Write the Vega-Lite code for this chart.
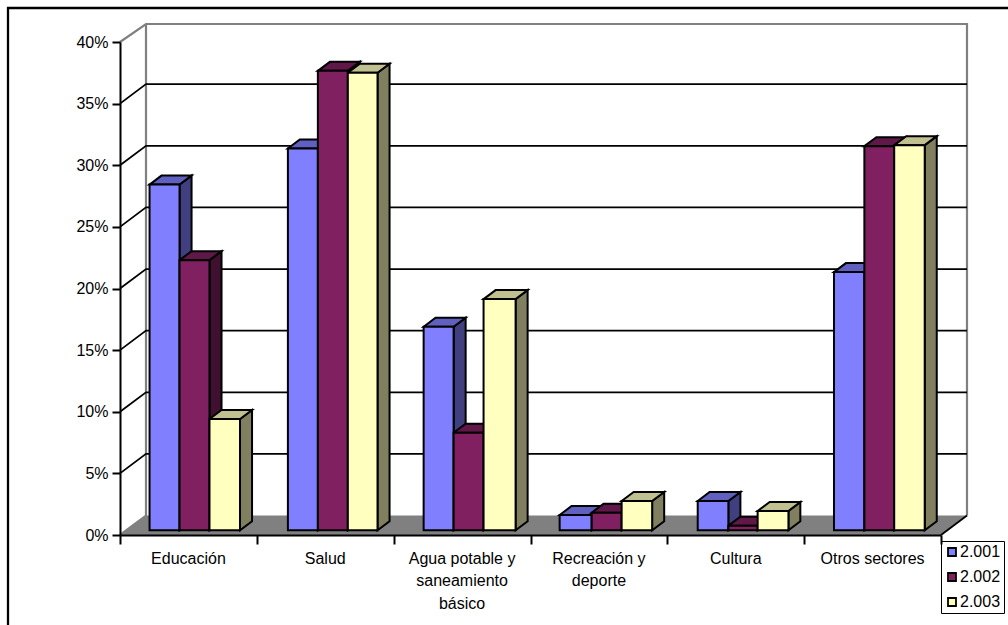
{"$schema":"https://vega.github.io/schema/vega-lite/v6.json","width":821,"height":493,"padding":{"left":120,"top":42,"right":67,"bottom":90},"autosize":"none","background":"white","config":{"view":{"stroke":null},"font":"Liberation Sans"},
"datasets":{
"barras":[
{"cat":"Educación","serie":"2.001","valor":28.08,"x":0.216,"x2":0.435,"y":28.43,"y2":0.38},
{"cat":"Educación","serie":"2.002","valor":21.95,"x":0.435,"x2":0.654,"y":22.30,"y2":0.38},
{"cat":"Educación","serie":"2.003","valor":9.06,"x":0.654,"x2":0.877,"y":9.41,"y2":0.38},
{"cat":"Salud","serie":"2.001","valor":31.01,"x":1.227,"x2":1.446,"y":31.36,"y2":0.38},
{"cat":"Salud","serie":"2.002","valor":37.31,"x":1.446,"x2":1.665,"y":37.66,"y2":0.38},
{"cat":"Salud","serie":"2.003","valor":37.15,"x":1.665,"x2":1.882,"y":37.50,"y2":0.38},
{"cat":"Agua","serie":"2.001","valor":16.55,"x":2.219,"x2":2.438,"y":16.90,"y2":0.38},
{"cat":"Agua","serie":"2.002","valor":7.95,"x":2.438,"x2":2.657,"y":8.30,"y2":0.38},
{"cat":"Agua","serie":"2.003","valor":18.79,"x":2.657,"x2":2.891,"y":19.14,"y2":0.38},
{"cat":"Recreación","serie":"2.001","valor":1.27,"x":3.213,"x2":3.447,"y":1.62,"y2":0.38},
{"cat":"Recreación","serie":"2.002","valor":1.46,"x":3.447,"x2":3.666,"y":1.81,"y2":0.38},
{"cat":"Recreación","serie":"2.003","valor":2.41,"x":3.666,"x2":3.889,"y":2.76,"y2":0.38},
{"cat":"Cultura","serie":"2.001","valor":2.41,"x":4.222,"x2":4.446,"y":2.76,"y2":0.38},
{"cat":"Cultura","serie":"2.002","valor":0.41,"x":4.446,"x2":4.660,"y":0.76,"y2":0.38},
{"cat":"Cultura","serie":"2.003","valor":1.60,"x":4.660,"x2":4.885,"y":1.95,"y2":0.38},
{"cat":"Otros","serie":"2.001","valor":20.98,"x":5.218,"x2":5.440,"y":21.33,"y2":0.38},
{"cat":"Otros","serie":"2.002","valor":31.20,"x":5.440,"x2":5.658,"y":31.55,"y2":0.38},
{"cat":"Otros","serie":"2.003","valor":31.28,"x":5.658,"x2":5.881,"y":31.63,"y2":0.38}
],
"lados":[
{"cat":"Educación","serie":"2.001","x":0.435,"y":28.43,"y2":0.38},{"cat":"Educación","serie":"2.001","x":0.523,"y":29.16,"y2":1.11},
{"cat":"Educación","serie":"2.002","x":0.654,"y":22.30,"y2":0.38},{"cat":"Educación","serie":"2.002","x":0.742,"y":23.03,"y2":1.11},
{"cat":"Educación","serie":"2.003","x":0.877,"y":9.41,"y2":0.38},{"cat":"Educación","serie":"2.003","x":0.965,"y":10.14,"y2":1.11},
{"cat":"Salud","serie":"2.001","x":1.446,"y":31.36,"y2":0.38},{"cat":"Salud","serie":"2.001","x":1.534,"y":32.09,"y2":1.11},
{"cat":"Salud","serie":"2.002","x":1.665,"y":37.66,"y2":0.38},{"cat":"Salud","serie":"2.002","x":1.753,"y":38.39,"y2":1.11},
{"cat":"Salud","serie":"2.003","x":1.882,"y":37.50,"y2":0.38},{"cat":"Salud","serie":"2.003","x":1.970,"y":38.23,"y2":1.11},
{"cat":"Agua","serie":"2.001","x":2.438,"y":16.90,"y2":0.38},{"cat":"Agua","serie":"2.001","x":2.526,"y":17.63,"y2":1.11},
{"cat":"Agua","serie":"2.002","x":2.657,"y":8.30,"y2":0.38},{"cat":"Agua","serie":"2.002","x":2.745,"y":9.03,"y2":1.11},
{"cat":"Agua","serie":"2.003","x":2.891,"y":19.14,"y2":0.38},{"cat":"Agua","serie":"2.003","x":2.979,"y":19.87,"y2":1.11},
{"cat":"Recreación","serie":"2.001","x":3.447,"y":1.62,"y2":0.38},{"cat":"Recreación","serie":"2.001","x":3.534,"y":2.35,"y2":1.11},
{"cat":"Recreación","serie":"2.002","x":3.666,"y":1.81,"y2":0.38},{"cat":"Recreación","serie":"2.002","x":3.754,"y":2.54,"y2":1.11},
{"cat":"Recreación","serie":"2.003","x":3.889,"y":2.76,"y2":0.38},{"cat":"Recreación","serie":"2.003","x":3.977,"y":3.49,"y2":1.11},
{"cat":"Cultura","serie":"2.001","x":4.446,"y":2.76,"y2":0.38},{"cat":"Cultura","serie":"2.001","x":4.534,"y":3.49,"y2":1.11},
{"cat":"Cultura","serie":"2.002","x":4.660,"y":0.76,"y2":0.38},{"cat":"Cultura","serie":"2.002","x":4.748,"y":1.49,"y2":1.11},
{"cat":"Cultura","serie":"2.003","x":4.885,"y":1.95,"y2":0.38},{"cat":"Cultura","serie":"2.003","x":4.972,"y":2.68,"y2":1.11},
{"cat":"Otros","serie":"2.001","x":5.440,"y":21.33,"y2":0.38},{"cat":"Otros","serie":"2.001","x":5.528,"y":22.06,"y2":1.11},
{"cat":"Otros","serie":"2.002","x":5.658,"y":31.55,"y2":0.38},{"cat":"Otros","serie":"2.002","x":5.746,"y":32.28,"y2":1.11},
{"cat":"Otros","serie":"2.003","x":5.881,"y":31.63,"y2":0.38},{"cat":"Otros","serie":"2.003","x":5.969,"y":32.36,"y2":1.11}
],
"tapas":[
{"cat":"Educación","serie":"2.001","x":0.216,"y":28.43,"y2":28.43},{"cat":"Educación","serie":"2.001","x":0.303,"y":29.16,"y2":28.43},{"cat":"Educación","serie":"2.001","x":0.435,"y":29.16,"y2":28.43},{"cat":"Educación","serie":"2.001","x":0.523,"y":29.16,"y2":29.16},
{"cat":"Educación","serie":"2.002","x":0.435,"y":22.30,"y2":22.30},{"cat":"Educación","serie":"2.002","x":0.523,"y":23.03,"y2":22.30},{"cat":"Educación","serie":"2.002","x":0.654,"y":23.03,"y2":22.30},{"cat":"Educación","serie":"2.002","x":0.742,"y":23.03,"y2":23.03},
{"cat":"Educación","serie":"2.003","x":0.654,"y":9.41,"y2":9.41},{"cat":"Educación","serie":"2.003","x":0.742,"y":10.14,"y2":9.41},{"cat":"Educación","serie":"2.003","x":0.877,"y":10.14,"y2":9.41},{"cat":"Educación","serie":"2.003","x":0.965,"y":10.14,"y2":10.14},
{"cat":"Salud","serie":"2.001","x":1.227,"y":31.36,"y2":31.36},{"cat":"Salud","serie":"2.001","x":1.314,"y":32.09,"y2":31.36},{"cat":"Salud","serie":"2.001","x":1.446,"y":32.09,"y2":31.36},{"cat":"Salud","serie":"2.001","x":1.534,"y":32.09,"y2":32.09},
{"cat":"Salud","serie":"2.002","x":1.446,"y":37.66,"y2":37.66},{"cat":"Salud","serie":"2.002","x":1.534,"y":38.39,"y2":37.66},{"cat":"Salud","serie":"2.002","x":1.665,"y":38.39,"y2":37.66},{"cat":"Salud","serie":"2.002","x":1.753,"y":38.39,"y2":38.39},
{"cat":"Salud","serie":"2.003","x":1.665,"y":37.50,"y2":37.50},{"cat":"Salud","serie":"2.003","x":1.753,"y":38.23,"y2":37.50},{"cat":"Salud","serie":"2.003","x":1.882,"y":38.23,"y2":37.50},{"cat":"Salud","serie":"2.003","x":1.970,"y":38.23,"y2":38.23},
{"cat":"Agua","serie":"2.001","x":2.219,"y":16.90,"y2":16.90},{"cat":"Agua","serie":"2.001","x":2.306,"y":17.63,"y2":16.90},{"cat":"Agua","serie":"2.001","x":2.438,"y":17.63,"y2":16.90},{"cat":"Agua","serie":"2.001","x":2.526,"y":17.63,"y2":17.63},
{"cat":"Agua","serie":"2.002","x":2.438,"y":8.30,"y2":8.30},{"cat":"Agua","serie":"2.002","x":2.526,"y":9.03,"y2":8.30},{"cat":"Agua","serie":"2.002","x":2.657,"y":9.03,"y2":8.30},{"cat":"Agua","serie":"2.002","x":2.745,"y":9.03,"y2":9.03},
{"cat":"Agua","serie":"2.003","x":2.657,"y":19.14,"y2":19.14},{"cat":"Agua","serie":"2.003","x":2.745,"y":19.87,"y2":19.14},{"cat":"Agua","serie":"2.003","x":2.891,"y":19.87,"y2":19.14},{"cat":"Agua","serie":"2.003","x":2.979,"y":19.87,"y2":19.87},
{"cat":"Recreación","serie":"2.001","x":3.213,"y":1.62,"y2":1.62},{"cat":"Recreación","serie":"2.001","x":3.300,"y":2.35,"y2":1.62},{"cat":"Recreación","serie":"2.001","x":3.447,"y":2.35,"y2":1.62},{"cat":"Recreación","serie":"2.001","x":3.534,"y":2.35,"y2":2.35},
{"cat":"Recreación","serie":"2.002","x":3.447,"y":1.81,"y2":1.81},{"cat":"Recreación","serie":"2.002","x":3.534,"y":2.54,"y2":1.81},{"cat":"Recreación","serie":"2.002","x":3.666,"y":2.54,"y2":1.81},{"cat":"Recreación","serie":"2.002","x":3.754,"y":2.54,"y2":2.54},
{"cat":"Recreación","serie":"2.003","x":3.666,"y":2.76,"y2":2.76},{"cat":"Recreación","serie":"2.003","x":3.754,"y":3.49,"y2":2.76},{"cat":"Recreación","serie":"2.003","x":3.889,"y":3.49,"y2":2.76},{"cat":"Recreación","serie":"2.003","x":3.977,"y":3.49,"y2":3.49},
{"cat":"Cultura","serie":"2.001","x":4.222,"y":2.76,"y2":2.76},{"cat":"Cultura","serie":"2.001","x":4.309,"y":3.49,"y2":2.76},{"cat":"Cultura","serie":"2.001","x":4.446,"y":3.49,"y2":2.76},{"cat":"Cultura","serie":"2.001","x":4.534,"y":3.49,"y2":3.49},
{"cat":"Cultura","serie":"2.002","x":4.446,"y":0.76,"y2":0.76},{"cat":"Cultura","serie":"2.002","x":4.534,"y":1.49,"y2":0.76},{"cat":"Cultura","serie":"2.002","x":4.660,"y":1.49,"y2":0.76},{"cat":"Cultura","serie":"2.002","x":4.748,"y":1.49,"y2":1.49},
{"cat":"Cultura","serie":"2.003","x":4.660,"y":1.95,"y2":1.95},{"cat":"Cultura","serie":"2.003","x":4.748,"y":2.68,"y2":1.95},{"cat":"Cultura","serie":"2.003","x":4.885,"y":2.68,"y2":1.95},{"cat":"Cultura","serie":"2.003","x":4.972,"y":2.68,"y2":2.68},
{"cat":"Otros","serie":"2.001","x":5.218,"y":21.33,"y2":21.33},{"cat":"Otros","serie":"2.001","x":5.305,"y":22.06,"y2":21.33},{"cat":"Otros","serie":"2.001","x":5.440,"y":22.06,"y2":21.33},{"cat":"Otros","serie":"2.001","x":5.528,"y":22.06,"y2":22.06},
{"cat":"Otros","serie":"2.002","x":5.440,"y":31.55,"y2":31.55},{"cat":"Otros","serie":"2.002","x":5.528,"y":32.28,"y2":31.55},{"cat":"Otros","serie":"2.002","x":5.658,"y":32.28,"y2":31.55},{"cat":"Otros","serie":"2.002","x":5.746,"y":32.28,"y2":32.28},
{"cat":"Otros","serie":"2.003","x":5.658,"y":31.63,"y2":31.63},{"cat":"Otros","serie":"2.003","x":5.746,"y":32.36,"y2":31.63},{"cat":"Otros","serie":"2.003","x":5.881,"y":32.36,"y2":31.63},{"cat":"Otros","serie":"2.003","x":5.969,"y":32.36,"y2":32.36}
],
"rejilla":[
{"nivel":5,"x":0,"y":5},{"nivel":5,"x":0.19,"y":6.58},{"nivel":5,"x":6.19,"y":6.58},
{"nivel":10,"x":0,"y":10},{"nivel":10,"x":0.19,"y":11.58},{"nivel":10,"x":6.19,"y":11.58},
{"nivel":15,"x":0,"y":15},{"nivel":15,"x":0.19,"y":16.58},{"nivel":15,"x":6.19,"y":16.58},
{"nivel":20,"x":0,"y":20},{"nivel":20,"x":0.19,"y":21.58},{"nivel":20,"x":6.19,"y":21.58},
{"nivel":25,"x":0,"y":25},{"nivel":25,"x":0.19,"y":26.58},{"nivel":25,"x":6.19,"y":26.58},
{"nivel":30,"x":0,"y":30},{"nivel":30,"x":0.19,"y":31.58},{"nivel":30,"x":6.19,"y":31.58},
{"nivel":35,"x":0,"y":35},{"nivel":35,"x":0.19,"y":36.58},{"nivel":35,"x":6.19,"y":36.58}
],
"pared":[
{"tramo":"a","o":1,"x":0,"y":40},{"tramo":"a","o":2,"x":0.19,"y":41.46},{"tramo":"a","o":3,"x":6.19,"y":41.46},{"tramo":"a","o":4,"x":6.19,"y":1.58},
{"tramo":"b","o":1,"x":0.19,"y":41.46},{"tramo":"b","o":2,"x":0.19,"y":1.58},{"tramo":"b","o":3,"x":0,"y":0}
],
"suelo":[
{"x":0,"y":0,"y2":0},{"x":0.19,"y":1.58,"y2":0},{"x":6,"y":1.58,"y2":0},{"x":6.19,"y":1.58,"y2":1.58}
],
"borde":[
{"tramo":"marco","o":1,"x":-0.8185,"y":-7.4},{"tramo":"marco","o":2,"x":-0.8185,"y":42.76},{"tramo":"marco","o":3,"x":6.53,"y":42.76}
],
"diagonal":[{"x":6,"y":0},{"x":6.19,"y":1.58}],
"etiquetas":[
{"x":0.5,"y":-1.26,"t":"Educación"},{"x":1.5,"y":-1.26,"t":"Salud"},{"x":2.5,"y":-1.26,"t":"Agua potable y\nsaneamiento\nbásico"},{"x":3.5,"y":-1.26,"t":"Recreación y\ndeporte"},{"x":4.5,"y":-1.26,"t":"Cultura"},{"x":5.5,"y":-1.26,"t":"Otros sectores"}
]
},
"encoding":{
"x":{"field":"x","type":"quantitative","scale":{"domain":[0,6],"nice":false,"zero":false},"axis":{"title":null,"values":[0,1,2,3,4,5,6],"labels":false,"grid":false,"tickSize":9,"tickWidth":2,"tickColor":"black","domainColor":"black","domainWidth":2,"zindex":1}},
"y":{"field":"y","type":"quantitative","scale":{"domain":[0,40],"nice":false,"zero":false},"axis":{"title":null,"values":[0,5,10,15,20,25,30,35,40],"labelExpr":"datum.value + '%'","labelFont":"Liberation Sans","labelFontSize":16,"labelColor":"black","labelPadding":4,"grid":false,"tickSize":8,"tickWidth":2,"tickColor":"black","domainColor":"black","domainWidth":2,"zindex":1}}
},
"layer":[
{"data":{"name":"suelo"},"mark":{"type":"area","color":"#808080"},"encoding":{"y2":{"field":"y2"}}},
{"data":{"name":"pared"},"mark":{"type":"line","color":"#808080","strokeWidth":2.2},"encoding":{"detail":{"field":"tramo"},"order":{"field":"o"}}},
{"data":{"name":"rejilla"},"mark":{"type":"line","color":"black","strokeWidth":1.8},"encoding":{"detail":{"field":"nivel"}}},
{"data":{"name":"diagonal"},"mark":{"type":"line","color":"black","strokeWidth":1.8}},
{"data":{"name":"borde"},"mark":{"type":"line","color":"black","strokeWidth":2.3},"encoding":{"detail":{"field":"tramo"},"order":{"field":"o"}}},
{"data":{"name":"lados"},"mark":{"type":"area","stroke":"black","strokeWidth":2,"strokeJoin":"miter"},"encoding":{"y2":{"field":"y2"},"detail":{"field":"cat"},"fill":{"field":"serie","type":"nominal","legend":null,"scale":{"domain":["2.001","2.002","2.003"],"range":["#404080","#401030","#808060"]}}}},
{"data":{"name":"tapas"},"mark":{"type":"area","stroke":"black","strokeWidth":2,"strokeJoin":"miter"},"encoding":{"y2":{"field":"y2"},"detail":{"field":"cat"},"fill":{"field":"serie","type":"nominal","legend":null,"scale":{"domain":["2.001","2.002","2.003"],"range":["#6060C0","#601848","#C0C090"]}}}},
{"data":{"name":"barras"},"mark":{"type":"rect","stroke":"black","strokeWidth":2,"strokeJoin":"miter"},"encoding":{"x2":{"field":"x2"},"y2":{"field":"y2"},"fill":{"field":"serie","type":"nominal","scale":{"domain":["2.001","2.002","2.003"],"range":["#8080FF","#802060","#FFFFC0"]},"legend":{"title":null,"orient":"none","legendX":821,"legendY":499,"symbolType":"square","symbolSize":64,"symbolStrokeColor":"black","symbolStrokeWidth":1.8,"symbolOpacity":1,"labelFont":"Liberation Sans","labelFontSize":16,"labelColor":"black","strokeColor":"black","fillColor":"white","padding":3,"rowPadding":9,"cornerRadius":0,"labelOffset":0}}}},
{"data":{"name":"etiquetas"},"mark":{"type":"text","font":"Liberation Sans","fontSize":16,"color":"black","align":"center","baseline":"top","lineBreak":"\n","lineHeight":22.5},"encoding":{"text":{"field":"t"}}}
],
"resolve":{"scale":{"fill":"independent"}}
}
